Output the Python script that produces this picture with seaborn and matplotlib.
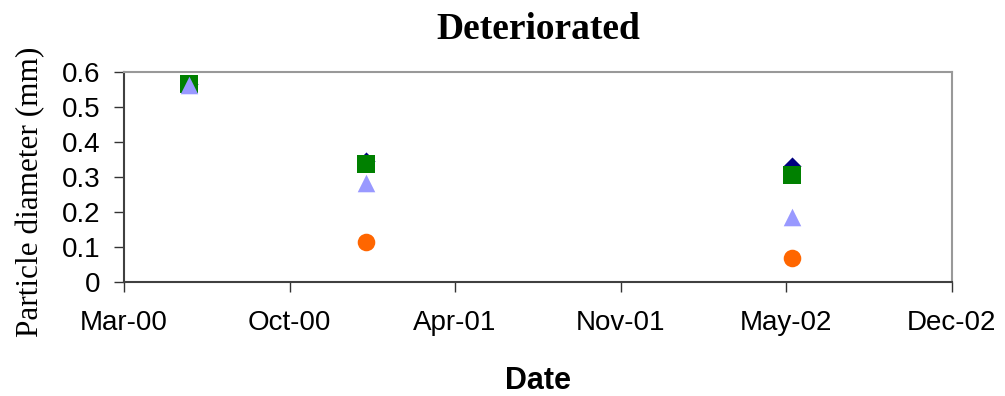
import numpy as np
import pandas as pd
import matplotlib
matplotlib.use("Agg")
import matplotlib.pyplot as plt
import matplotlib.dates as mdates
import seaborn as sns
from datetime import datetime, timedelta

# sampling dates
dates = ["2000-06-01", "2001-01-01", "2002-05-31"]

# particle diameter (mm) per series
series_diamond = [0.565, 0.346, 0.331]
series_square = [0.565, 0.337, 0.306]
series_triangle = [0.563, 0.282, 0.187]
series_circle = [np.nan, 0.114, 0.069]

series_names = ["Series 1", "Series 2", "Series 3", "Series 4"]
series_values = [series_diamond, series_square, series_triangle, series_circle]
colors = ["#000080", "#008000", "#9999FF", "#FF6600"]
markers = ["D", "s", "^", "o"]
sizes = [85, 150, 160, 160]

rows = []
for name, vals in zip(series_names, series_values):
    for d, v in zip(dates, vals):
        rows.append({"date": pd.Timestamp(d), "diameter": v, "series": name})
df = pd.DataFrame(rows)

sns.set_style("white")
plt.rcParams["text.color"] = "black"
plt.rcParams["axes.labelcolor"] = "black"
plt.rcParams["xtick.color"] = "black"
plt.rcParams["ytick.color"] = "black"

fig = plt.figure(figsize=(10.05, 3.96), dpi=100)
ax = fig.add_axes([0.1234, 0.288, 0.8236, 0.530])

# draw series in order so square sits over diamond, triangle over square
for name, c, m, s in zip(series_names, colors, markers, sizes):
    sub = df[df["series"] == name].dropna()
    sns.scatterplot(data=sub, x="date", y="diameter", color=c, marker=m, s=s,
                    linewidth=0, ax=ax, legend=False, zorder=3)

# Excel-like date axis: ticks every 200 days
start = datetime(2000, 3, 15)
ticks = [start + timedelta(days=200 * i) for i in range(6)]
ax.set_xlim(ticks[0], ticks[-1])
ax.set_xticks(ticks)
ax.xaxis.set_major_formatter(mdates.DateFormatter("%b-%y"))
ax.set_ylim(0, 0.6)
ax.set_yticks(np.arange(0, 0.61, 0.1))
ax.set_yticklabels(["0", "0.1", "0.2", "0.3", "0.4", "0.5", "0.6"])

for lab in ax.get_xticklabels() + ax.get_yticklabels():
    lab.set_family(["Liberation Sans", "DejaVu Sans"])
    lab.set_fontsize(20)
ax.tick_params(axis="both", direction="out", length=7, width=1, color="#333333",
               bottom=True, left=True)
ax.tick_params(axis="x", pad=13)
ax.tick_params(axis="y", pad=10)

ax.spines["left"].set_color("#404040")
ax.spines["bottom"].set_color("#404040")
ax.spines["top"].set_color("#999999")
ax.spines["right"].set_color("#999999")
for sp in ax.spines.values():
    sp.set_linewidth(1.5)

ax.set_xlabel("Date", fontsize=22, fontweight="bold",
              family=["Liberation Sans", "DejaVu Sans"], labelpad=22)
ax.set_ylabel("Particle diameter (mm)", fontsize=22.5,
              family=["Liberation Serif", "DejaVu Serif"], labelpad=12)
ax.yaxis.label.set_y(0.43)
ax.set_title("Deteriorated", fontsize=27, fontweight="bold",
             family=["Liberation Serif", "DejaVu Serif"], pad=24)

plt.savefig("out.png", dpi=100)
